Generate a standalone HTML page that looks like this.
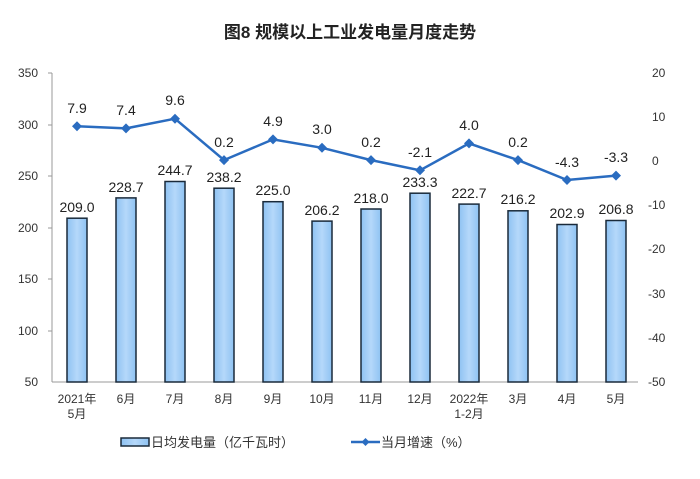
<!DOCTYPE html>
<html><head><meta charset="utf-8"><style>
body{margin:0;background:#fff;}
text{font-family:"Liberation Sans","Noto Sans CJK SC",sans-serif;}
</style></head><body>
<svg width="700" height="474" xmlns="http://www.w3.org/2000/svg">
<defs><linearGradient id="g" x1="0" x2="1"><stop offset="0" stop-color="#8ec2f2"/><stop offset="0.5" stop-color="#b5d8fa"/><stop offset="1" stop-color="#8ec2f2"/></linearGradient></defs>
<text x="350" y="38" font-size="17" text-anchor="middle" font-weight="bold" fill="#222">图8  规模以上工业发电量月度走势</text>
<g font-size="12" fill="#333" text-anchor="end">
<text x="38" y="77">350</text><text x="38" y="129">300</text><text x="38" y="180">250</text><text x="38" y="232">200</text><text x="38" y="283">150</text><text x="38" y="335">100</text><text x="38" y="386">50</text>
</g>
<g font-size="12" fill="#333" text-anchor="start">
<text x="652" y="77">20</text><text x="652" y="121">10</text><text x="652" y="165">0</text><text x="648" y="209">-10</text><text x="648" y="253">-20</text><text x="648" y="298">-30</text><text x="648" y="342">-40</text><text x="648" y="386">-50</text>
</g>
<line x1="52" y1="73" x2="52" y2="382" stroke="#999"/>
<line x1="52" y1="382" x2="638" y2="382" stroke="#999"/>
<g stroke="#999"><line x1="48" y1="73" x2="52" y2="73"/><line x1="48" y1="125" x2="52" y2="125"/><line x1="48" y1="176" x2="52" y2="176"/><line x1="48" y1="228" x2="52" y2="228"/><line x1="48" y1="279" x2="52" y2="279"/><line x1="48" y1="331" x2="52" y2="331"/></g>
<g fill="url(#g)" stroke="#1a2a3a" stroke-width="1.5">
<rect x="67" y="218.2" width="20" height="163.8"/>
<rect x="116" y="197.9" width="20" height="184.1"/>
<rect x="165" y="181.5" width="20" height="200.5"/>
<rect x="214" y="188.2" width="20" height="193.8"/>
<rect x="263" y="201.7" width="20" height="180.3"/>
<rect x="312" y="221.1" width="20" height="160.9"/>
<rect x="361" y="209" width="20" height="173"/>
<rect x="410" y="193.2" width="20" height="188.8"/>
<rect x="459" y="204.1" width="20" height="177.9"/>
<rect x="508" y="210.8" width="20" height="171.2"/>
<rect x="557" y="224.5" width="20" height="157.5"/>
<rect x="606" y="220.5" width="20" height="161.5"/>
</g>
<g font-size="14" fill="#222" text-anchor="middle">
<text x="77" y="212">209.0</text><text x="126" y="192">228.7</text><text x="175" y="175">244.7</text><text x="224" y="182">238.2</text><text x="273" y="195">225.0</text><text x="322" y="215">206.2</text><text x="371" y="203">218.0</text><text x="420" y="187">233.3</text><text x="469" y="198">222.7</text><text x="518" y="204">216.2</text><text x="567" y="218">202.9</text><text x="616" y="214">206.8</text>
</g>
<polyline fill="none" stroke="#2a6cc0" stroke-width="2.5" points="77,126.2 126,128.4 175,118.7 224,160.1 273,139.4 322,147.8 371,160.1 420,170.3 469,143.4 518,160.1 567,180 616,175.6"/>
<g fill="#2a6cc0">
<path d="M77,121.2l5,5l-5,5l-5-5z"/><path d="M126,123.4l5,5l-5,5l-5-5z"/><path d="M175,113.7l5,5l-5,5l-5-5z"/><path d="M224,155.1l5,5l-5,5l-5-5z"/><path d="M273,134.4l5,5l-5,5l-5-5z"/><path d="M322,142.8l5,5l-5,5l-5-5z"/><path d="M371,155.1l5,5l-5,5l-5-5z"/><path d="M420,165.3l5,5l-5,5l-5-5z"/><path d="M469,138.4l5,5l-5,5l-5-5z"/><path d="M518,155.1l5,5l-5,5l-5-5z"/><path d="M567,175l5,5l-5,5l-5-5z"/><path d="M616,170.6l5,5l-5,5l-5-5z"/>
</g>
<g font-size="14" fill="#222" text-anchor="middle">
<text x="77" y="113">7.9</text><text x="126" y="115">7.4</text><text x="175" y="105">9.6</text><text x="224" y="147">0.2</text><text x="273" y="126">4.9</text><text x="322" y="134">3.0</text><text x="371" y="147">0.2</text><text x="420" y="157">-2.1</text><text x="469" y="130">4.0</text><text x="518" y="147">0.2</text><text x="567" y="167">-4.3</text><text x="616" y="162">-3.3</text>
</g>
<g font-size="12" fill="#333" text-anchor="middle">
<text x="77" y="403">2021年</text><text x="77" y="418">5月</text>
<text x="126" y="403">6月</text><text x="175" y="403">7月</text><text x="224" y="403">8月</text><text x="273" y="403">9月</text><text x="322" y="403">10月</text><text x="371" y="403">11月</text><text x="420" y="403">12月</text>
<text x="469" y="403">2022年</text><text x="469" y="418">1-2月</text>
<text x="518" y="403">3月</text><text x="567" y="403">4月</text><text x="616" y="403">5月</text>
</g>
<rect x="121" y="438" width="28" height="8" fill="url(#g)" stroke="#1a2a3a" stroke-width="1.5"/>
<text x="151" y="447" font-size="13" fill="#333">日均发电量（亿千瓦时）</text>
<line x1="351" y1="442" x2="380" y2="442" stroke="#2a6cc0" stroke-width="2.5"/>
<path d="M365.5,438l4,4l-4,4l-4-4z" fill="#2a6cc0"/>
<text x="381" y="447" font-size="13" fill="#333">当月增速（%）</text>
</svg>
</body></html>
